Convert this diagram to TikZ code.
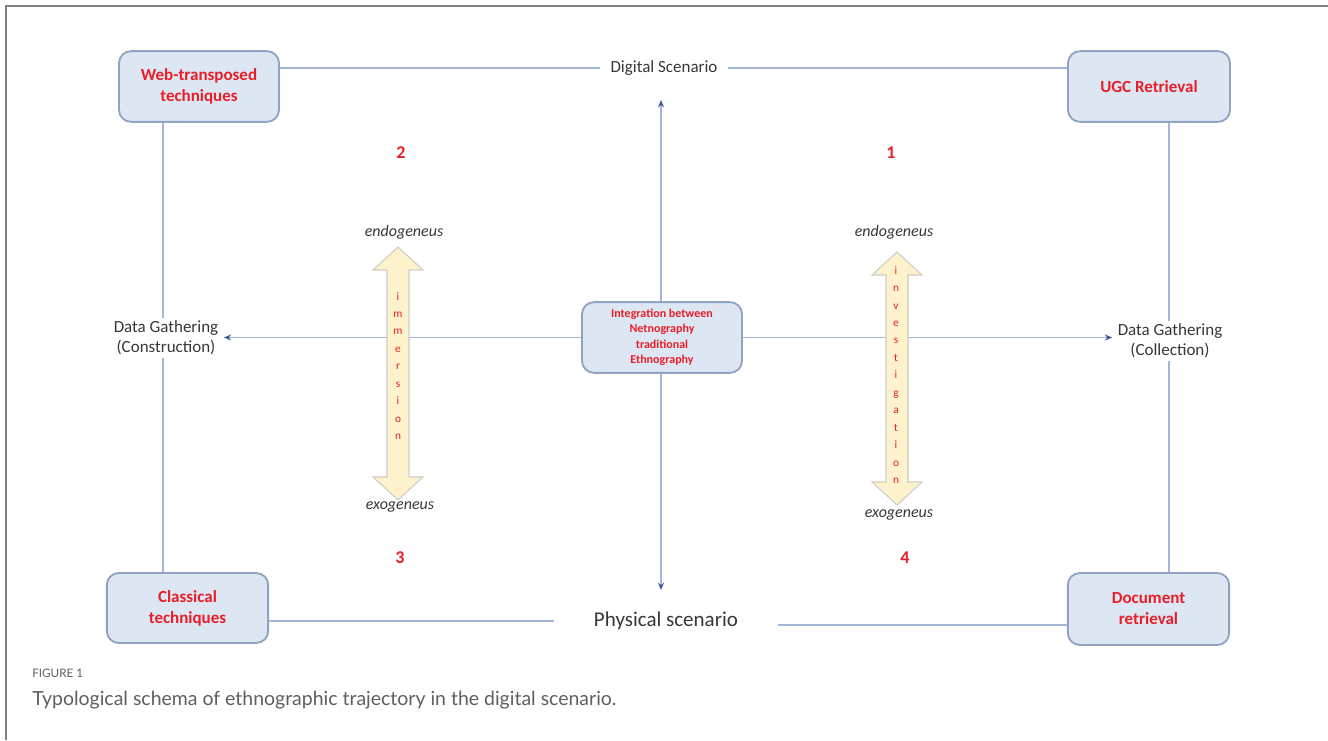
\documentclass[tikz,border=0pt]{standalone}
\usepackage{fontspec}
\setmainfont{Carlito}
\newfontfamily\capfont{Lato}
\usetikzlibrary{arrows.meta,calc}
\definecolor{boxfill}{RGB}{221,231,243}
\definecolor{boxdraw}{RGB}{146,163,194}
\definecolor{connc}{RGB}{165,181,216}
\definecolor{tipc}{RGB}{60,90,160}
\definecolor{redtxt}{RGB}{232,30,40}
\definecolor{darktxt}{RGB}{55,55,55}
\definecolor{arrfill}{RGB}{254,242,205}
\definecolor{arrdraw}{RGB}{205,205,200}
\definecolor{framec}{RGB}{128,128,128}
\definecolor{capc}{RGB}{95,95,95}
\begin{document}
\begin{tikzpicture}[x=0.75pt,y=-0.75pt,
  tbox/.style={draw=boxdraw, line width=1.4pt, fill=boxfill, rounded corners=9pt,
    minimum width=120pt, minimum height=53pt, align=center, text=redtxt,
    font=\fontsize{12.75}{15.75}\selectfont\bfseries, inner sep=0pt},
  cbox/.style={tbox, font=\fontsize{9}{11.6}\selectfont\bfseries},
  plain/.style={text=darktxt, font=\fontsize{12.75}{15}\selectfont, align=center},
  pole/.style={text=darktxt, font=\fontsize{12}{14}\selectfont\itshape},
  quad/.style={text=redtxt, font=\fontsize{13.5}{15}\selectfont\bfseries},
  conn/.style={draw=connc, line width=1.1pt},
  tipped/.style={conn, -{Stealth[length=5.5pt,width=4.5pt,color=tipc]}},
  dblarr/.style={draw=arrdraw, line width=0.8pt, fill=arrfill},
  vword/.style={text=redtxt, font=\fontsize{8.5}{13.1}\selectfont, align=center, inner sep=0pt}
]
\useasboundingbox (0,0) rectangle (1328,740);
% frame
\draw[framec, line width=1.5pt] (6,740) -- (6,6) -- (1328,6);

% boxes
\node[tbox] (web) at (199,86.5) {Web-transposed\\techniques};
\node[tbox, minimum width=121.5pt] (ugc) at (1149,86.5) {UGC Retrieval};
\node[tbox, minimum width=121pt, minimum height=52.5pt] (cla) at (187.5,608) {Classical\\techniques};
\node[tbox, minimum width=121pt, minimum height=54pt] (doc) at (1148.5,609) {Document\\retrieval};
\node[cbox] (ctr) at (662,337.5) {Integration between\\Netnography\\traditional\\Ethnography};

% text nodes
\node[plain, inner xsep=8pt] (dig) at (664,68) {Digital Scenario};
\node[plain, font=\fontsize{15.75}{18}\selectfont, inner xsep=30pt] (phy) at (666,621) {Physical scenario};
\node[plain, inner xsep=4pt, inner ysep=2pt] (dgl) at (166,338) {Data Gathering\\(Construction)};
\node[plain, inner xsep=4pt, inner ysep=2pt] (dgr) at (1170,341) {Data Gathering\\(Collection)};

\node[quad] (q2) at (401,153) {2};
\node[quad] (q1) at (891,153) {1};
\node[quad] (q3) at (400,558) {3};
\node[quad] (q4) at (905,558) {4};

\node[pole] (enl) at (404,232) {endogeneus};
\node[pole] (enr) at (894,232) {endogeneus};
\node[pole] (exl) at (400,507) {exogeneus};
\node[pole] (exr) at (899,515) {exogeneus};

% guide coordinates
\coordinate (lv) at (163,0);
\coordinate (rv) at (1169,0);
\coordinate (uptip) at (661,100);
\coordinate (dntip) at (661,590);

% connectors
\draw[conn] (web.east |- dig.west) -- (dig.west);
\draw[conn] (dig.east) -- (dig.east -| ugc.west);
\draw[conn] (cla.east |- phy.west) -- (phy.west);
\draw[conn] (phy.east) ++(0,4) -- (doc.west |- 0,625);
\draw[conn] (web.south -| lv) -- (dgl.north -| lv);
\draw[conn] (dgl.south -| lv) -- (cla.north -| lv);
\draw[conn] (ugc.south -| rv) -- (dgr.north -| rv);
\draw[conn] (dgr.south -| rv) -- (doc.north -| rv);
\draw[tipped] (ctr.north -| uptip) -- (uptip);
\draw[tipped] (ctr.south -| dntip) -- (dntip);
\draw[tipped] (ctr.west) -- (ctr.west -| dgl.east);
\draw[tipped] (ctr.east) -- (ctr.east -| dgr.west);

% double arrows
\draw[dblarr] (398,247) -- (423,270) -- (409,270) -- (409,477) -- (423,477) -- (398,500)
  -- (373,477) -- (387,477) -- (387,270) -- (373,270) -- cycle;
\draw[dblarr] (897,252) -- (922,275) -- (908,275) -- (908,482) -- (922,482) -- (897,505)
  -- (872,482) -- (886,482) -- (886,275) -- (872,275) -- cycle;
\node[vword] (imm) at (398,366) {i\\m\\m\\e\\r\\s\\i\\o\\n};
\node[vword] (inv) at (896,375) {i\\n\\v\\e\\s\\t\\i\\g\\a\\t\\i\\o\\n};

% caption
\node[anchor=west, text=capc, font=\capfont\fontsize{8.75}{11}\selectfont, inner sep=0pt] (fig) at (32,673) {FIGURE 1};
\node[anchor=west, text=capc, font=\capfont\fontsize{14.6}{17}\selectfont, inner sep=0pt] (cap) at (32,700) {Typological schema of ethnographic trajectory in the digital scenario.};
\end{tikzpicture}
\end{document}
